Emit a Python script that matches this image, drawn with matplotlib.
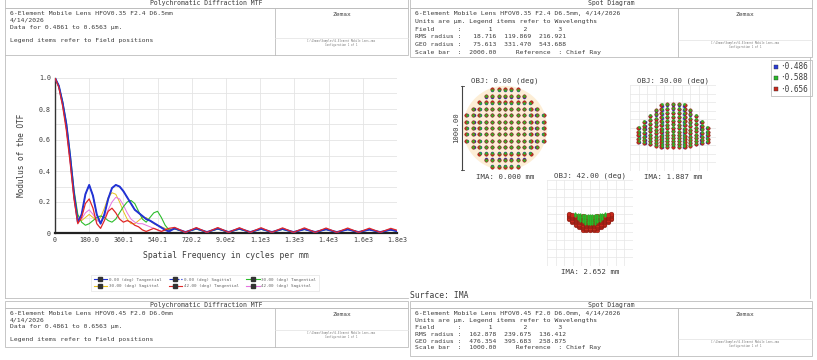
import numpy as np
import matplotlib
matplotlib.use('Agg')
import matplotlib.pyplot as plt
from matplotlib.patches import Rectangle, Circle
from matplotlib.lines import Line2D

W, H = 817, 360
MONO = 'DejaVu Sans Mono'
TXT = '#3c3c3c'
RULE = '#bdbdbd'

# ---- MTF data (cycles/mm vs modulus) ----
freq = [0, 20, 40, 60, 80, 100, 120, 140, 160, 180, 200, 220, 240, 260, 280,
        300, 320, 340, 360, 380, 400, 420, 440, 460, 480, 500, 520, 540, 560,
        580, 600,
        630, 687, 744, 800, 857, 914, 971, 1028, 1085, 1142, 1198, 1256, 1313,
        1370, 1427, 1484, 1541, 1598, 1655, 1712, 1768, 1800]

mtf_0_tan = [1.00, 0.95, 0.84, 0.70, 0.49, 0.25, 0.07, 0.12, 0.25, 0.31, 0.24,
             0.12, 0.06, 0.12, 0.22, 0.29, 0.31, 0.30, 0.27, 0.23, 0.19, 0.15,
             0.13, 0.11, 0.09, 0.08, 0.065, 0.05, 0.035, 0.02, 0.01,
             0.030, 0.006, 0.029, 0.006, 0.029, 0.006, 0.028, 0.006, 0.027, 0.006,
             0.026, 0.006, 0.025, 0.006, 0.024, 0.006, 0.023, 0.006, 0.022, 0.006,
             0.021, 0.012]
# on axis both azimuths are identical
mtf_0_sag = list(mtf_0_tan)
mtf_30_tan = [1.00, 0.95, 0.85, 0.71, 0.51, 0.28, 0.12, 0.07, 0.05, 0.06, 0.08,
              0.10, 0.11, 0.10, 0.08, 0.07, 0.09, 0.13, 0.17, 0.20, 0.21, 0.19,
              0.14, 0.09, 0.07, 0.10, 0.13, 0.14, 0.10, 0.05, 0.02,
              0.026, 0.005, 0.025, 0.005, 0.025, 0.005, 0.024, 0.005, 0.024, 0.005,
              0.023, 0.005, 0.023, 0.005, 0.022, 0.005, 0.022, 0.005, 0.021, 0.005,
              0.020, 0.010]
mtf_30_sag = [1.00, 0.95, 0.84, 0.69, 0.48, 0.26, 0.11, 0.08, 0.10, 0.12, 0.10,
              0.08, 0.10, 0.16, 0.23, 0.26, 0.25, 0.20, 0.14, 0.09, 0.06, 0.06,
              0.08, 0.10, 0.10, 0.08, 0.06, 0.05, 0.04, 0.03, 0.02,
              0.028, 0.005, 0.028, 0.005, 0.027, 0.005, 0.027, 0.005, 0.026, 0.005,
              0.026, 0.005, 0.025, 0.005, 0.025, 0.005, 0.024, 0.005, 0.024, 0.005,
              0.023, 0.012]
mtf_42_tan = [1.00, 0.94, 0.82, 0.66, 0.45, 0.22, 0.06, 0.10, 0.19, 0.22, 0.16,
              0.06, 0.03, 0.08, 0.14, 0.16, 0.13, 0.09, 0.07, 0.08, 0.07, 0.05,
              0.04, 0.02, 0.01, 0.02, 0.03, 0.02, 0.01, 0.02, 0.03,
              0.036, 0.004, 0.035, 0.004, 0.035, 0.004, 0.034, 0.004, 0.034, 0.004,
              0.033, 0.004, 0.033, 0.004, 0.032, 0.004, 0.032, 0.004, 0.031, 0.004,
              0.030, 0.018]
mtf_42_sag = [1.00, 0.94, 0.83, 0.67, 0.46, 0.23, 0.07, 0.09, 0.13, 0.15, 0.12,
              0.08, 0.07, 0.10, 0.15, 0.20, 0.23, 0.22, 0.18, 0.13, 0.09, 0.07,
              0.06, 0.06, 0.05, 0.04, 0.03, 0.02, 0.01, 0.02, 0.02,
              0.030, 0.005, 0.030, 0.005, 0.029, 0.005, 0.029, 0.005, 0.028, 0.005,
              0.028, 0.005, 0.027, 0.005, 0.027, 0.005, 0.026, 0.005, 0.026, 0.005,
              0.025, 0.012]

series_labels = ['0.00 (deg) Tangential', '0.00 (deg) Sagittal',
                 '30.00 (deg) Tangential', '30.00 (deg) Sagittal',
                 '42.00 (deg) Tangential', '42.00 (deg) Sagittal']
series_colors = ['#2233d4', '#2233d4', '#2cbd2c', '#e6c21e', '#e02828', '#e673e0']

freq_max = 1800.6
freq_tick_labels = ['0', '180.0', '360.1', '540.1', '720.2', '9.0e2',
                    '1.1e3', '1.3e3', '1.4e3', '1.6e3', '1.8e3']
mtf_tick_labels = ['0', '0.2', '0.4', '0.6', '0.8', '1.0']

# ---- spot diagram data ----
spot_titles = ['OBJ: 0.00 (deg)', 'OBJ: 30.00 (deg)', 'OBJ: 42.00 (deg)']
spot_ima = ['IMA: 0.000 mm', 'IMA: 1.887 mm', 'IMA: 2.652 mm']
wavelengths = ['0.486', '0.588', '0.656']
wave_colors = ['#2a3cd8', '#28b828', '#c8281c']
# relative spot size per field and wavelength
wave_scale = [[0.97, 0.985, 1.0], [0.97, 0.985, 1.0], [0.85, 0.70, 1.0]]
# spot footprint per field (um): half width, half height, py^2 sag, px^2 sag
spot_half_w = [1000, 900, 550]
spot_half_h = [1000, 550, 170]
spot_sag_py = [0, 74, -20]
spot_sag_px = [0, -200, 180]
# vertical lateral-colour shift per field and wavelength (um)
spot_shift = [[0, 0, 0], [0, 20, 0], [-20, 90, 0]]
spot_box = 1050
scale_bar_label = '1000.00'
PUPIL_N = 13

# ---- header texts ----
mtf_head_top = ['6-Element Mobile Lens HFOV0.35 F2.4 D6.5mm', '4/14/2026',
                'Data for 0.4861 to 0.6563 \u00b5m.', '',
                'Legend items refer to Field positions']
mtf_head_bot = ['6-Element Mobile Lens HFOV0.45 F2.0 D6.0mm', '4/14/2026',
                'Data for 0.4861 to 0.6563 \u00b5m.', '',
                'Legend items refer to Field positions']
spot_head_top = ['6-Element Mobile Lens HFOV0.35 F2.4 D6.5mm, 4/14/2026',
                 'Units are \u00b5m. Legend items refer to Wavelengths',
                 'Field      :       1        2        3',
                 'RMS radius :   18.716  119.869  216.921',
                 'GEO radius :   75.613  331.470  543.688',
                 'Scale bar  :  2000.00     Reference  : Chief Ray']
spot_head_bot = ['6-Element Mobile Lens HFOV0.45 F2.0 D6.0mm, 4/14/2026',
                 'Units are \u00b5m. Legend items refer to Wavelengths',
                 'Field      :       1        2        3',
                 'RMS radius :  162.878  239.675  136.412',
                 'GEO radius :  476.354  395.683  258.875',
                 'Scale bar  :  1000.00     Reference  : Chief Ray']
file_note = 'C:\\Zemax\\Samples\\6-Element Mobile Lens.zmx\nConfiguration 1 of 1'

fig = plt.figure(figsize=(W / 100, H / 100), dpi=100)
fig.patch.set_facecolor('white')

bg = fig.add_axes([0, 0, 1, 1])
bg.set_xlim(0, W)
bg.set_ylim(H, 0)
bg.axis('off')


def px_axes(x0, y0, x1, y1):
    return fig.add_axes([x0 / W, 1 - y1 / H, (x1 - x0) / W, (y1 - y0) / H])


def box(x0, y0, x1, y1):
    bg.add_patch(Rectangle((x0, y0), x1 - x0, y1 - y0, fill=False,
                           ec=RULE, lw=0.6))


def header(x0, x1, xdiv, ytitle, ybox, ybot, title, lines, ystep):
    box(x0, ytitle, x1, ybox)
    bg.text((x0 + x1) / 2, (ytitle + ybox) / 2 + 0.5, title, ha='center',
            va='center', fontsize=4.7, family=MONO, color=TXT)
    box(x0, ybox, x1, ybot)
    bg.plot([xdiv, xdiv], [ybox, ybot], color=RULE, lw=0.6)
    for i, s in enumerate(lines):
        bg.text(x0 + 5, ybox + 5.5 + i * ystep, s, ha='left', va='center',
                fontsize=4.6, family=MONO, color=TXT)
    xc = (xdiv + x1) / 2
    bg.text(xc, ybox + 6.5, 'Zemax', ha='center', va='center',
            fontsize=4.5, family=MONO, color=TXT)
    bg.plot([xdiv, x1], [ybot - 17, ybot - 17], color='#e2e2e2', lw=0.5)
    bg.text(xc, ybot - 12, file_note, ha='center', va='center',
            fontsize=1.9, family=MONO, color='#777777', linespacing=1.3)


# top pair of report headers
header(5, 408, 275, -2, 8, 55, 'Polychromatic Diffraction MTF',
       mtf_head_top, 6.8)
header(410, 812, 678, -2, 8, 57, 'Spot Diagram', spot_head_top, 7.8)
# bottom pair (next page of the report)
header(5, 408, 275, 301, 308, 347, 'Polychromatic Diffraction MTF',
       mtf_head_bot, 6.6)
header(410, 812, 678, 301, 308, 356, 'Spot Diagram', spot_head_bot, 6.9)

# panel outlines
bg.plot([5, 5], [55, 298], color=RULE, lw=0.6)
bg.plot([5, 408], [298, 298], color=RULE, lw=0.6)
bg.plot([810, 810], [57, 298], color=RULE, lw=0.6)
bg.text(410, 296, 'Surface: IMA', ha='left', va='center', fontsize=5.8,
        family=MONO, color=TXT)

# ---- MTF plot ----
ax = px_axes(55, 78, 397, 233)
order = [3, 5, 2, 0, 1, 4]
all_series = [mtf_0_tan, mtf_0_sag, mtf_30_tan, mtf_30_sag, mtf_42_tan, mtf_42_sag]
widths = [1.4, 0.7, 0.8, 0.7, 0.9, 0.7]
styles = ['-', '--', '-', '-', '-', '-']
for i in order:
    ax.plot(freq, all_series[i], color=series_colors[i], lw=widths[i],
            ls=styles[i], solid_joinstyle='round', zorder=3)
ax.set_xlim(0, freq_max)
ax.set_ylim(0, 1.0)
xt = np.arange(len(freq_tick_labels)) * freq_max / (len(freq_tick_labels) - 1)
ax.set_xticks(xt)
ax.set_xticklabels(freq_tick_labels)
ax.set_yticks(np.linspace(0, 1, len(mtf_tick_labels)))
ax.set_yticklabels(mtf_tick_labels)
ax.set_yticks(np.arange(0.1, 1.0, 0.2), minor=True)
ax.tick_params(length=0, labelsize=4.8, colors=TXT, pad=3)
ax.tick_params(which='minor', length=0)
for lab in ax.get_xticklabels() + ax.get_yticklabels():
    lab.set_family(MONO)
ax.grid(True, which='both', color='#e4e4e4', lw=0.6)
ax.set_axisbelow(True)
for side in ['top', 'right']:
    ax.spines[side].set_visible(False)
ax.spines['left'].set_color('#333333')
ax.spines['left'].set_linewidth(1.0)
ax.spines['bottom'].set_color('#222222')
ax.spines['bottom'].set_linewidth(1.6)
ax.set_xlabel('Spatial Frequency in cycles per mm', fontsize=5.8,
              family=MONO, color=TXT, labelpad=6)
ax.set_ylabel('Modulus of the OTF', fontsize=5.6, family=MONO, color=TXT,
              labelpad=9)

handles = [Line2D([0], [0], color=series_colors[i], lw=0.8, ls=styles[i],
                  marker='s', markersize=2.2, markerfacecolor='#333333',
                  markeredgecolor='#333333', markevery=[0])
           for i in range(6)]
leg_order = [0, 3, 1, 4, 2, 5]
leg = fig.legend([handles[i] for i in leg_order],
                 [series_labels[i] for i in leg_order],
                 loc='center', bbox_to_anchor=(205 / W, 1 - 283 / H), ncol=3,
                 fontsize=3.1, frameon=True, fancybox=False, edgecolor='#dddddd',
                 handlelength=3.2, columnspacing=1.6, handletextpad=0.4,
                 borderpad=0.6, labelspacing=0.6)
leg.get_frame().set_linewidth(0.5)
for t in leg.get_texts():
    t.set_color('#666666')
    t.set_family(MONO)

# ---- spot diagrams ----
g = (np.arange(PUPIL_N) - (PUPIL_N - 1) / 2) / 6.35
pxg, pyg = np.meshgrid(g, g)
inside = pxg ** 2 + pyg ** 2 <= 1.0
pupil_x, pupil_y = pxg[inside], pyg[inside]

spot_boxes = [(462, 85, 548, 171), (630, 85, 716, 171), (547, 180, 633, 266)]
for f, (x0, y0, x1, y1) in enumerate(spot_boxes):
    sa = px_axes(x0, y0, x1, y1)
    sa.set_xlim(-spot_box, spot_box)
    sa.set_ylim(-spot_box, spot_box)
    sa.set_xticks([])
    sa.set_yticks([])
    for s in sa.spines.values():
        s.set_visible(False)
    if f > 0:
        for v in np.linspace(-spot_box, spot_box, 11):
            sa.axvline(v, color='#e6e6e6', lw=0.5, zorder=0)
            sa.axhline(v, color='#e6e6e6', lw=0.5, zorder=0)
    else:
        sa.add_patch(Circle((0, 0), spot_half_w[0] * 1.03, fc='#fdeed6',
                            ec='none', zorder=0))
        sa.plot([-spot_box + 10] * 2, [-spot_box + 15, spot_box - 15],
                color='#444444', lw=0.8, clip_on=False)
        for yy in (-spot_box + 15, spot_box - 15):
            sa.plot([-spot_box - 30, -spot_box + 50], [yy, yy],
                    color='#444444', lw=0.6, clip_on=False)
        sa.text(-spot_box - 70, 0, scale_bar_label, rotation=90, ha='right',
                va='center', fontsize=5.2, family=MONO, color=TXT)
    sizes = [2.2, 1.5, 2.5] if f < 2 else [2.0, 1.1, 3.4]
    for w in [0, 2, 1]:
        sc = wave_scale[f][w]
        xs = sc * spot_half_w[f] * pupil_x
        ys = sc * (spot_half_h[f] * pupil_y + spot_sag_py[f] * pupil_y ** 2
                   + spot_sag_px[f] * pupil_x ** 2) + spot_shift[f][w]
        edge = '#7a1a10' if w == 2 else wave_colors[w]
        sa.plot(xs, ys, ls='none', marker='o', markersize=sizes[w],
                markerfacecolor=wave_colors[w], markeredgecolor=edge,
                markeredgewidth=0.3, zorder=2 + (w == 1))
    sa.set_title(spot_titles[f], fontsize=5.3, family=MONO, color=TXT, pad=1.5)
    sa.text(0.5, -0.03, spot_ima[f], transform=sa.transAxes, ha='center',
            va='top', fontsize=5.3, family=MONO, color=TXT)

# wavelength legend
box(771, 60, 812, 96)
for i, (lab, c) in enumerate(zip(wavelengths, wave_colors)):
    yy = 66.5 + i * 11.3
    bg.add_patch(Rectangle((774, yy - 2), 4, 4, fc=c, ec='#333333', lw=0.3))
    bg.text(780, yy, '\u00b7' + lab, ha='left', va='center', fontsize=5.6,
            family=MONO, color=TXT)

fig.savefig('out.png', dpi=100)
